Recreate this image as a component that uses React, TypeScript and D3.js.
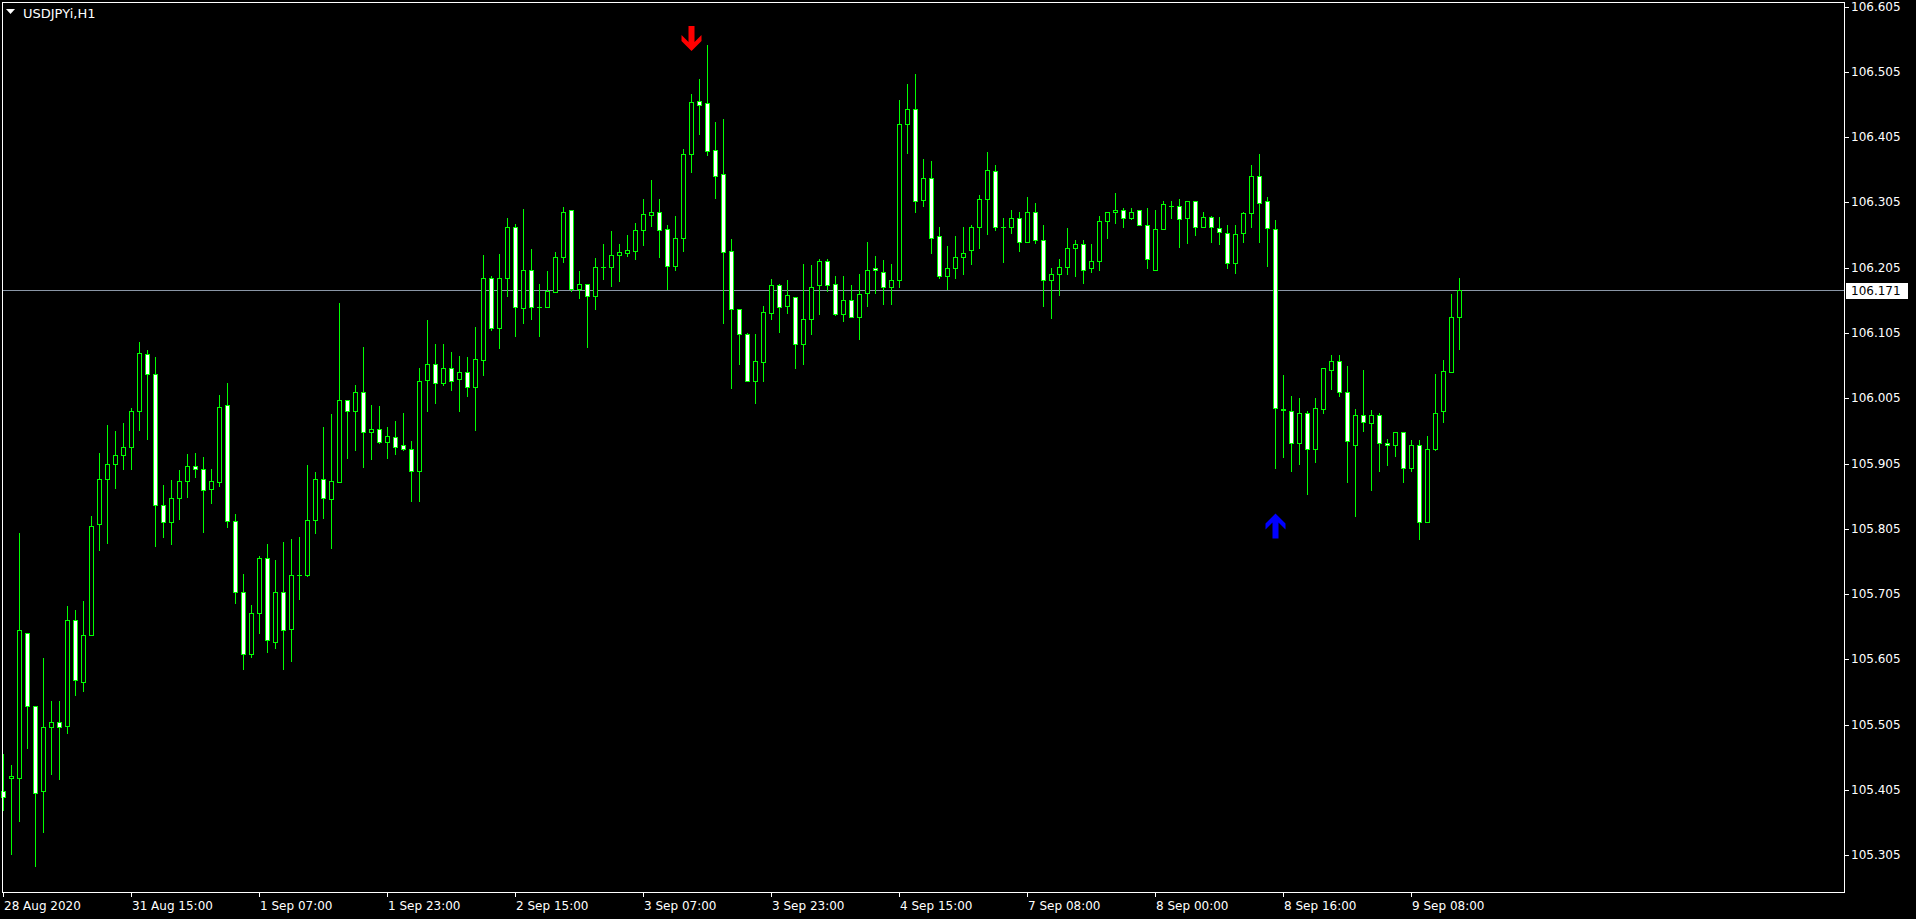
import React from 'react';
import * as d3 from 'd3';

// ---- DATA (USDJPYi, H1) ----
const opens = [
  105.404, 105.424, 105.424, 105.646, 105.533, 105.403, 105.502, 105.509, 105.503, 105.666,
  105.571, 105.643, 105.813, 105.881, 105.905, 105.918, 105.931, 105.986, 106.073, 106.042,
  105.842, 105.816, 105.852, 105.878, 105.902, 105.896, 105.866, 105.876, 105.994, 105.817,
  105.709, 105.613, 105.676, 105.761, 105.632, 105.708, 105.652, 105.734, 105.734, 105.819,
  105.881, 105.850, 105.876, 106.003, 105.986, 106.014, 105.953, 105.958, 105.938, 105.945,
  105.933, 105.928, 105.893, 106.033, 106.057, 106.029, 106.051, 106.035, 106.045, 106.022,
  106.063, 106.189, 106.113, 106.189, 106.268, 106.143, 106.202, 106.144, 106.145, 106.167,
  106.221, 106.293, 106.173, 106.180, 106.162, 106.206, 106.206, 106.225, 106.227, 106.230,
  106.262, 106.285, 106.290, 106.264, 106.207, 106.250, 106.379, 106.460, 106.457, 106.385,
  106.348, 106.230, 106.141, 106.104, 106.032, 106.060, 106.135, 106.179, 106.146, 106.160,
  106.088, 106.127, 106.178, 106.215, 106.180, 106.134, 106.156, 106.130, 106.166, 106.204,
  106.199, 106.176, 106.186, 106.425, 106.448, 106.308, 106.343, 106.253, 106.193, 106.204,
  106.221, 106.232, 106.267, 106.310, 106.353, 106.267, 106.268, 106.281, 106.245, 106.291,
  106.247, 106.186, 106.196, 106.206, 106.235, 106.242, 106.204, 106.215, 106.277, 106.290,
  106.294, 106.281, 106.293, 106.271, 106.202, 106.264, 106.299, 106.299, 106.281, 106.307,
  106.268, 106.282, 106.266, 106.258, 106.212, 106.258, 106.288, 106.346, 106.307, 106.264,
  105.988, 105.986, 105.936, 105.983, 105.927, 105.988, 106.049, 106.062, 106.014, 105.934,
  105.980, 105.967, 105.979, 105.937, 105.934, 105.953, 105.898, 105.934, 105.816, 105.928,
  105.985, 106.045, 106.129,
];
const highs = [
  105.460, 105.443, 105.799, 105.646, 105.533, 105.607, 105.541, 105.541, 105.687, 105.680,
  105.694, 105.825, 105.921, 105.964, 105.955, 105.967, 105.990, 106.091, 106.079, 106.068,
  105.872, 105.880, 105.895, 105.919, 105.921, 105.915, 105.897, 106.010, 106.028, 105.828,
  105.736, 105.688, 105.763, 105.782, 105.757, 105.785, 105.789, 105.792, 105.903, 105.892,
  105.961, 105.981, 106.151, 106.003, 106.025, 106.083, 105.995, 105.993, 105.961, 105.970,
  105.982, 105.940, 106.051, 106.125, 106.088, 106.088, 106.076, 106.070, 106.068, 106.114,
  106.224, 106.192, 106.226, 106.281, 106.272, 106.295, 106.234, 106.180, 106.200, 106.229,
  106.298, 106.294, 106.200, 106.180, 106.220, 106.241, 106.261, 106.241, 106.255, 106.273,
  106.310, 106.339, 106.310, 106.271, 106.284, 106.386, 106.471, 106.494, 106.546, 106.428,
  106.433, 106.249, 106.141, 106.105, 106.103, 106.147, 106.188, 106.180, 106.186, 106.160,
  106.210, 106.209, 106.218, 106.218, 106.192, 106.192, 106.179, 106.195, 106.244, 106.223,
  106.217, 106.211, 106.462, 106.486, 106.502, 106.372, 106.369, 106.268, 106.238, 106.253,
  106.267, 106.270, 106.316, 106.382, 106.362, 106.281, 106.294, 106.290, 106.313, 106.304,
  106.271, 106.204, 106.218, 106.265, 106.247, 106.247, 106.241, 106.284, 106.291, 106.320,
  106.297, 106.296, 106.294, 106.297, 106.293, 106.307, 106.307, 106.310, 106.307, 106.307,
  106.291, 106.284, 106.282, 106.271, 106.270, 106.291, 106.362, 106.379, 106.313, 106.278,
  106.040, 106.009, 106.006, 105.986, 106.006, 106.051, 106.071, 106.071, 106.055, 105.988,
  106.048, 105.987, 105.983, 105.942, 105.953, 105.953, 105.941, 105.941, 105.947, 106.042,
  106.064, 106.165, 106.189,
];
const lows = [
  105.374, 105.307, 105.357, 105.470, 105.288, 105.341, 105.430, 105.422, 105.492, 105.551,
  105.557, 105.642, 105.773, 105.783, 105.867, 105.897, 105.897, 105.956, 105.943, 105.778,
  105.792, 105.782, 105.820, 105.853, 105.884, 105.800, 105.845, 105.870, 105.808, 105.691,
  105.590, 105.609, 105.645, 105.617, 105.622, 105.590, 105.603, 105.698, 105.733, 105.799,
  105.822, 105.776, 105.876, 105.914, 105.926, 105.900, 105.912, 105.937, 105.914, 105.920,
  105.926, 105.847, 105.848, 105.986, 105.998, 106.025, 106.018, 105.986, 106.009, 105.957,
  106.041, 106.110, 106.082, 106.161, 106.101, 106.121, 106.127, 106.101, 106.145, 106.167,
  106.213, 106.170, 106.159, 106.084, 106.141, 106.188, 106.177, 106.185, 106.223, 106.219,
  106.240, 106.269, 106.222, 106.173, 106.202, 106.231, 106.351, 106.410, 106.378, 106.312,
  106.121, 106.020, 106.058, 106.031, 105.998, 106.032, 106.127, 106.107, 106.135, 106.052,
  106.058, 106.103, 106.134, 106.169, 106.133, 106.124, 106.129, 106.095, 106.147, 106.166,
  106.150, 106.150, 106.176, 106.380, 106.290, 106.300, 106.228, 106.189, 106.173, 106.189,
  106.195, 106.210, 106.235, 106.256, 106.262, 106.213, 106.258, 106.231, 106.245, 106.243,
  106.147, 106.128, 106.163, 106.196, 106.193, 106.182, 106.198, 106.202, 106.251, 106.274,
  106.267, 106.280, 106.271, 106.205, 106.202, 106.264, 106.281, 106.237, 106.243, 106.255,
  106.267, 106.245, 106.241, 106.205, 106.197, 106.245, 106.268, 106.245, 106.207, 105.898,
  105.915, 105.894, 105.905, 105.859, 105.908, 105.982, 106.019, 106.009, 105.877, 105.825,
  105.955, 105.865, 105.894, 105.903, 105.917, 105.877, 105.894, 105.790, 105.816, 105.926,
  105.968, 106.045, 106.081,
];
const closes = [
  105.395, 105.427, 105.650, 105.533, 105.401, 105.502, 105.509, 105.502, 105.666, 105.574,
  105.643, 105.810, 105.881, 105.905, 105.918, 105.931, 105.986, 106.075, 106.042, 105.842,
  105.815, 105.852, 105.878, 105.902, 105.896, 105.865, 105.878, 105.992, 105.817, 105.708,
  105.613, 105.676, 105.760, 105.635, 105.708, 105.650, 105.734, 105.734, 105.818, 105.881,
  105.852, 105.879, 106.003, 105.986, 106.014, 105.954, 105.958, 105.938, 105.947, 105.931,
  105.928, 105.893, 106.032, 106.057, 106.029, 106.052, 106.032, 106.045, 106.022, 106.065,
  106.189, 106.113, 106.189, 106.267, 106.144, 106.202, 106.144, 106.144, 106.169, 106.222,
  106.291, 106.172, 106.180, 106.162, 106.206, 106.206, 106.225, 106.229, 106.232, 106.262,
  106.287, 106.290, 106.262, 106.207, 106.251, 106.379, 106.458, 106.454, 106.383, 106.346,
  106.229, 106.141, 106.104, 106.032, 106.062, 106.137, 106.179, 106.144, 106.163, 106.088,
  106.127, 106.176, 106.215, 106.178, 106.134, 106.155, 106.130, 106.164, 106.202, 106.201,
  106.176, 106.186, 106.425, 106.448, 106.307, 106.343, 106.251, 106.192, 106.204, 106.222,
  106.228, 106.267, 106.310, 106.354, 106.267, 106.267, 106.281, 106.244, 106.290, 106.248,
  106.186, 106.196, 106.206, 106.235, 106.242, 106.202, 106.215, 106.277, 106.290, 106.294,
  106.281, 106.291, 106.271, 106.219, 106.264, 106.302, 106.299, 106.279, 106.307, 106.267,
  106.282, 106.267, 106.259, 106.212, 106.256, 106.288, 106.346, 106.304, 106.265, 105.990,
  105.987, 105.936, 105.983, 105.927, 105.990, 106.051, 106.062, 106.014, 105.939, 105.979,
  105.968, 105.979, 105.937, 105.934, 105.953, 105.898, 105.934, 105.816, 105.927, 105.983,
  106.046, 106.130, 106.171,
];

const priceTicks = [
  106.605, 106.505, 106.405, 106.305, 106.205, 106.105, 106.005,
  105.905, 105.805, 105.705, 105.605, 105.505, 105.405, 105.305,
];
const timeLabelBars = [0, 16, 32, 48, 64, 80, 96, 112, 128, 144, 160, 176];
const timeLabels = [
  '28 Aug 2020', '31 Aug 15:00', '1 Sep 07:00', '1 Sep 23:00', '2 Sep 15:00', '3 Sep 07:00',
  '3 Sep 23:00', '4 Sep 15:00', '7 Sep 08:00', '8 Sep 00:00', '8 Sep 16:00', '9 Sep 08:00',
];
const currentPrice = 106.171;
const symbolTitle = 'USDJPYi,H1';
const sellArrowBar = 86;
const sellArrowPrice = 106.537;
const buyArrowBar = 159;
const buyArrowPrice = 105.8285;

const FONT = '"DejaVu Sans", Verdana, sans-serif';

export default function App() {
  const W = 1916;
  const H = 919;
  const left = 2, top = 2, right = 1844, bottom = 892;

  const x = d3.scaleLinear().domain([0, 1]).range([3, 11]); // pixel column of bar
  const y = d3.scaleLinear().domain([105.305, 106.605]).range([855.3, 6.5]);
  const py = (p: number) => Math.round(y(p));

  const candles = opens.map((o, i) => {
    const c = closes[i];
    const cx = Math.round(x(i));
    const hi = py(highs[i]);
    const lo = py(lows[i]);
    const bt = py(Math.max(o, c));
    const bb = py(Math.min(o, c));
    const bear = c < o;
    return (
      <g key={i}>
        <line x1={cx + 0.5} x2={cx + 0.5} y1={hi} y2={lo + 1} stroke="#00ff00" strokeWidth={1} />
        {bb - bt < 1 ? (
          <line x1={cx - 2} x2={cx + 3} y1={bt + 0.5} y2={bt + 0.5} stroke="#00ff00" strokeWidth={1} />
        ) : (
          <rect x={cx - 1.5} y={bt + 0.5} width={4} height={bb - bt}
            fill={bear ? '#ffffff' : '#000000'} stroke="#00ff00" strokeWidth={1} />
        )}
      </g>
    );
  });

  // arrows
  const sx = Math.round(x(sellArrowBar)) + 0.5;
  const sy = y(sellArrowPrice);
  const downArrow = [
    [sx, sy], [sx + 10, sy - 10], [sx + 10, sy - 16], [sx + 3, sy - 9], [sx + 3, sy - 25],
    [sx - 3, sy - 25], [sx - 3, sy - 9], [sx - 10, sy - 16], [sx - 10, sy - 10],
  ];
  const bx = Math.round(x(buyArrowBar)) + 0.5;
  const by = y(buyArrowPrice);
  const upArrow = [
    [bx, by], [bx + 10, by + 10], [bx + 10, by + 16], [bx + 3, by + 9], [bx + 3, by + 25],
    [bx - 3, by + 25], [bx - 3, by + 9], [bx - 10, by + 16], [bx - 10, by + 10],
  ];
  const line = d3.line();

  const cpY = py(currentPrice);

  return (
    <div style={{ position: 'fixed', left: 0, top: 0, width: W, height: H, background: '#000' }}>
      <svg width={W} height={H} style={{ display: 'block', background: '#000' }}>
        <rect x={0} y={0} width={W} height={H} fill="#000" />
        {/* current price line */}
        <line x1={left} x2={right} y1={cpY + 0.5} y2={cpY + 0.5} stroke="#8a96a6" strokeWidth={1} />
        {candles}
        <path d={line(downArrow as [number, number][]) + 'Z'} fill="#ff0000" />
        <path d={line(upArrow as [number, number][]) + 'Z'} fill="#0000ff" />
        {/* frame */}
        <rect x={left + 0.5} y={top + 0.5} width={right - left} height={bottom - top}
          fill="none" stroke="#ffffff" strokeWidth={1} />
        {/* right axis */}
        {priceTicks.map((p) => {
          const yy = py(p);
          return (
            <g key={p}>
              <line x1={right} x2={right + 5} y1={yy + 0.5} y2={yy + 0.5} stroke="#ffffff" />
              <text x={1851} y={yy} dy="0.36em" fill="#ffffff" fontFamily={FONT} fontSize={12}>
                {p.toFixed(3)}
              </text>
            </g>
          );
        })}
        <rect x={1846} y={cpY - 7} width={62} height={16} fill="#ffffff" />
        <text x={1851} y={cpY + 1} dy="0.36em" fill="#000000" fontFamily={FONT} fontSize={12}>
          {currentPrice.toFixed(3)}
        </text>
        {/* bottom axis */}
        {timeLabelBars.map((b, i) => {
          const xx = Math.round(x(b));
          return (
            <g key={b}>
              <line x1={xx + 0.5} x2={xx + 0.5} y1={bottom} y2={bottom + 5} stroke="#ffffff" />
              <text x={xx + 1} y={910} fill="#ffffff" fontFamily={FONT} fontSize={12}>
                {timeLabels[i]}
              </text>
            </g>
          );
        })}
        {/* title */}
        <path d="M6,9 L15,9 L10.5,14 Z" fill="#ffffff" />
        <text x={23} y={18} fill="#ffffff" fontFamily={FONT} fontSize={13}>{symbolTitle}</text>
      </svg>
    </div>
  );
}
